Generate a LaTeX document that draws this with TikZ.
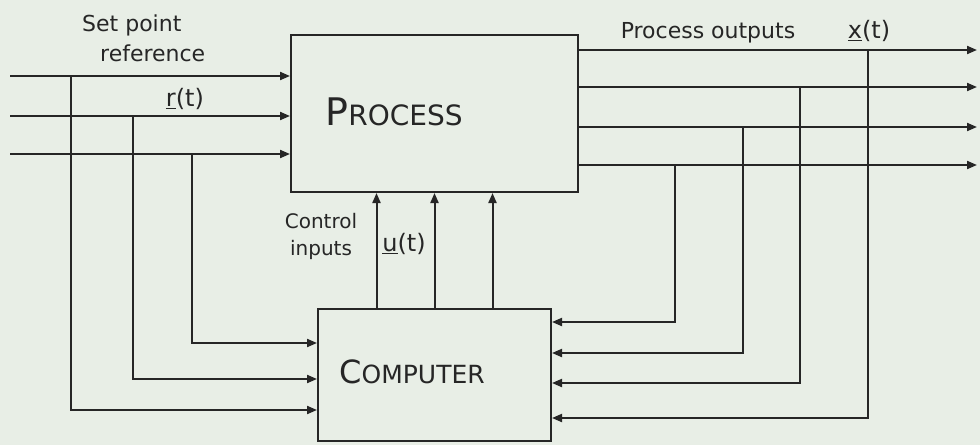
\documentclass[tikz,border=0pt]{standalone}
\usepackage{fontspec}
\setmainfont{DejaVu Sans}
\usepackage{tikz}
\usetikzlibrary{arrows.meta,positioning}
\definecolor{paper}{HTML}{E8EEE6}
\definecolor{ink}{HTML}{262626}
\tikzset{
  >={Triangle[length=10pt,width=8pt]},
  flow/.style={->,draw=ink,line width=2pt},
  block/.style={draw=ink,line width=2pt,inner sep=0pt,anchor=north west},
  lab/.style={text=ink,inner sep=0pt,font=\fontsize{22}{25}\selectfont},
  smalllab/.style={lab,font=\fontsize{20}{27}\selectfont},
  siglab/.style={lab,font=\fontsize{24}{27}\selectfont}
}

\begin{document}
\begin{tikzpicture}[x=1pt,y=-1pt]
  \fill[paper] (0,0) rectangle (980,445);
  \useasboundingbox (0,0) rectangle (980,445);
  % blocks
  \node[block,minimum width=287pt,minimum height=157pt] (proc) at (290,34) {};
  \node[block,minimum width=233pt,minimum height=132pt] (comp) at (317,308) {};
  \node[lab,anchor=base] (proclab) at (394,125)
    {{\fontsize{38}{40}\selectfont P}{\fontsize{28}{30}\selectfont ROCESS}};
  \node[lab,anchor=base] (complab) at (412,383)
    {{\fontsize{32}{34}\selectfont C}{\fontsize{25}{27}\selectfont OMPUTER}};
  % set point reference r(t)
  \foreach \n/\y/\x/\yy in {1/76/71/410,2/116/133/379,3/154/192/343}{
    \coordinate (ref\n) at (10,\y);
    \coordinate (rtap\n) at (\x,\y);
    \coordinate (rbend\n) at (\x,\yy);
    \draw[flow] (ref\n) -- (ref\n -| proc.west);
    \draw[flow] (rtap\n) -- (rbend\n) -- (rbend\n -| comp.west);
  }
  % process outputs x(t)
  \foreach \n/\y/\x/\yy in {1/50/868/418,2/87/800/383,3/127/743/353,4/165/675/322}{
    \coordinate (out\n) at (977,\y);
    \coordinate (xtap\n) at (\x,\y);
    \coordinate (xbend\n) at (\x,\yy);
    \draw[flow] (out\n -| proc.east) -- (out\n);
    \draw[flow] (xtap\n) -- (xbend\n) -- (xbend\n -| comp.east);
  }
  % control inputs u(t)
  \foreach \dx in {-58,0,58}
    \draw[flow] ([xshift=\dx pt]comp.north) -- ([xshift=\dx pt]proc.south);
  % labels
  \node[lab,anchor=base west] (setlab) at (82,31) {Set point};
  \node[lab,anchor=base west] (reflab) at (100,61) {reference};
  \node[siglab] (rlab) at (185,99) {\underline{r}(t)};
  \node[lab] (outlab) at (708,33) {Process outputs};
  \node[siglab] (xlab) at (869,31) {\underline{x}(t)};
  \node[smalllab,align=center] (ctllab) at (321,236) {Control\\inputs};
  \node[siglab] (ulab) at (404,244) {\underline{u}(t)};
\end{tikzpicture}
\end{document}
